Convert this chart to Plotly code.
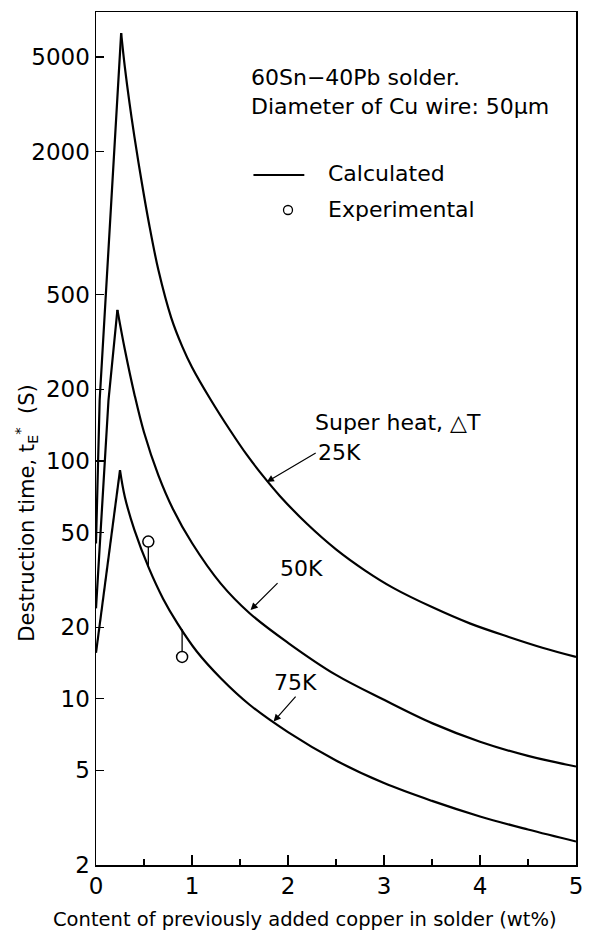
import numpy as np
import plotly.graph_objects as go

# ---------------- data ----------------
# Calculated destruction time t_E* (s) vs previously added Cu (wt%)
x_25k = [0.0, 0.038, 0.262, 0.30, 0.35, 0.40, 0.476, 0.55, 0.65, 0.784, 0.9, 1.0, 1.195, 1.4, 1.572,
         1.75, 1.915, 2.2, 2.5, 2.8, 3.1, 3.5, 3.9, 4.3, 4.65, 5.0]
y_25k = [45, 180, 6300, 4550, 3180, 2310, 1490, 1007, 635, 400, 302, 248, 181, 134, 106,
         85.5, 71.3, 54.3, 42.5, 34.7, 29.2, 24.3, 20.7, 18.2, 16.4, 15.0]

x_50k = [0.0, 0.13, 0.223, 0.30, 0.40, 0.50, 0.65, 0.80, 1.0, 1.3, 1.6, 2.0, 2.5, 3.0, 3.5, 4.0, 4.5, 5.0]
y_50k = [24, 180, 432, 295, 191, 132, 87, 63, 45.2, 30.5, 22.9, 17.2, 12.6, 9.9, 7.9, 6.6, 5.75, 5.19]

x_75k = [0.0, 0.25, 0.30, 0.40, 0.55, 0.70, 0.85, 1.05, 1.3, 1.6, 2.0, 2.5, 3.0, 3.5, 4.0, 4.5, 5.0]
y_75k = [15.6, 91.6, 70.8, 51.3, 35.5, 26.3, 20.7, 15.8, 12.2, 9.44, 7.24, 5.5, 4.42, 3.72, 3.2, 2.82, 2.51]

# Experimental points and the calculated (75K) value each is tied to
exp_x = [0.545, 0.897]
exp_y = [45.8, 15.0]
exp_curve_y = [35.8, 19.6]

x_tick_vals = [0, 1, 2, 3, 4, 5]
x_tick_text = ["0", "1", "2", "3", "4", "5"]
y_tick_vals = [2, 5, 10, 20, 50, 100, 200, 500, 2000, 5000]
y_tick_text = ["2", "5", "10", "20", "50", "100", "200", "500", "2000", "5000"]

FONT = "DejaVu Sans"
LW = 2.2

fig = go.Figure()

def add_curve(xs, ys):
    k = int(np.argmax(ys))
    # rising branch (straight), descending branch (smooth)
    fig.add_trace(go.Scatter(x=xs[:k + 1], y=ys[:k + 1], mode="lines",
                             line=dict(color="black", width=LW), showlegend=False,
                             hoverinfo="skip"))
    fig.add_trace(go.Scatter(x=xs[k:], y=ys[k:], mode="lines",
                             line=dict(color="black", width=LW, shape="spline", smoothing=1.0),
                             showlegend=False, hoverinfo="skip"))

add_curve(x_25k, y_25k)
add_curve(x_50k, y_50k)
add_curve(x_75k, y_75k)

# stems joining experimental points to the curve
for xe, ye, yc in zip(exp_x, exp_y, exp_curve_y):
    fig.add_trace(go.Scatter(x=[xe, xe], y=[ye, yc], mode="lines",
                             line=dict(color="black", width=1.3), showlegend=False,
                             hoverinfo="skip"))
fig.add_trace(go.Scatter(x=exp_x, y=exp_y, mode="markers",
                         marker=dict(symbol="circle", size=11, color="white",
                                     line=dict(color="black", width=1.5)),
                         showlegend=False))

axis_common = dict(showline=True, linecolor="black", linewidth=1.5, mirror=True,
                   showgrid=False, zeroline=False, ticks="inside", tickcolor="black",
                   tickwidth=1.3, tickfont=dict(family=FONT, size=23, color="black"))

fig.update_xaxes(range=[0, 5], tickmode="array", tickvals=x_tick_vals, ticktext=x_tick_text,
                 ticklen=10, minor=dict(dtick=0.5, tick0=0, ticks="inside", ticklen=6,
                                        tickcolor="black", tickwidth=1.2),
                 **axis_common)
fig.update_yaxes(type="log", range=[np.log10(2), 3.888], tickmode="array",
                 tickvals=y_tick_vals, ticktext=y_tick_text, ticklen=8, **axis_common)

ann = []
def txt(x, y, s, size=22, xanchor="left", xref="x", yref="y", angle=0, yanchor="middle"):
    ann.append(dict(x=x, y=y, xref=xref, yref=yref, text=s, showarrow=False,
                    xanchor=xanchor, yanchor=yanchor, textangle=angle,
                    font=dict(family=FONT, size=size, color="black")))

def label_arrow(x, y, s, ax, ay, xanchor, yanchor):
    ann.append(dict(x=x, y=y, xref="x", yref="y", text=s, showarrow=True,
                    ax=ax, ay=ay, arrowhead=2, arrowsize=1.2, arrowwidth=1.2,
                    arrowcolor="black", xanchor=xanchor, yanchor=yanchor,
                    font=dict(family=FONT, size=22, color="black")))

txt(1.59, 3.613, "60Sn\u221240Pb solder.")
txt(1.59, 3.491, "Diameter of Cu wire: 50\u03bcm")
txt(2.395, 3.207, "Calculated")
txt(2.395, 3.059, "Experimental")
txt(2.26, 2.160, "Super heat, \u25b3T")

label_arrow(1.778, 1.912, "25K", 49, -29, "left", "middle")
label_arrow(1.61, 1.373, "50K", 27, -27, "left", "bottom")
label_arrow(1.85, 0.904, "75K", 22, -25, "center", "bottom")

# axis titles
txt(-0.146, 0.413, "Destruction time, t<sub>E</sub><sup>*</sup>  (S)", size=21,
    xanchor="center", xref="paper", yref="paper", angle=-90)
txt(0.436, -0.0635, "Content of previously added copper in solder (wt%)", size=19.5,
    xanchor="center", xref="paper", yref="paper")

fig.update_layout(annotations=ann)

# legend sample line and circle
fig.add_shape(type="line", xref="x", yref="paper", x0=1.64, x1=2.17,
              y0=(865 - 175) / 853, y1=(865 - 175) / 853,
              line=dict(color="black", width=2))
fig.add_shape(type="circle", xref="x", yref="paper", xsizemode="pixel", ysizemode="pixel",
              xanchor=2.0, yanchor=(865 - 210) / 853, x0=-4.5, x1=4.5, y0=-4.5, y1=4.5,
              line=dict(color="black", width=1.3))

fig.update_layout(width=590, height=933, margin=dict(l=96, r=7, t=12, b=68),
                  plot_bgcolor="white", paper_bgcolor="white", showlegend=False)

fig.write_html("out.html", config={"displayModeBar": False, "staticPlot": True},
               post_script="document.body.style.margin='0px';document.body.style.overflow='hidden';")
